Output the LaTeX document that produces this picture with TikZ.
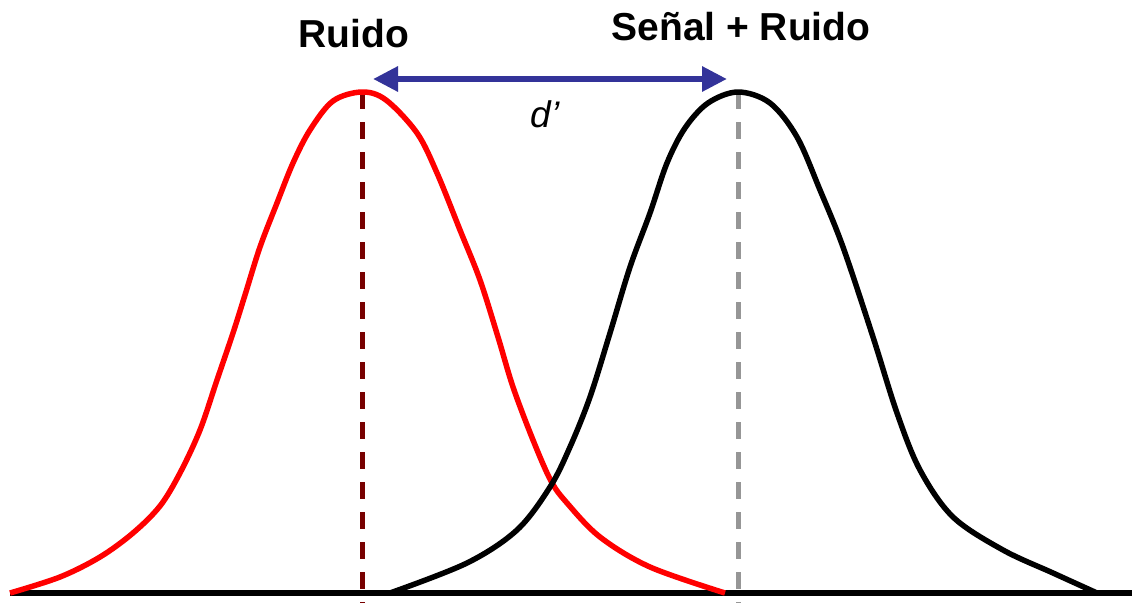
\documentclass[tikz,border=0pt]{standalone}
\usepackage{fontspec}
\setmainfont{Liberation Sans}
\usetikzlibrary{arrows.meta}
\definecolor{arrowblue}{RGB}{51,51,153}
\definecolor{darkred}{RGB}{120,0,0}
\definecolor{midgray}{RGB}{150,150,150}
\tikzset{
  curvestyle/.style={line width=5.5pt, line join=round},
  peakline/.style={line width=5pt, dash pattern=on 17pt off 13pt},
  titletext/.style={font=\fontsize{39}{42}\selectfont\bfseries, anchor=base, inner sep=0pt},
  dtext/.style={font=\fontsize{37}{40}\selectfont\itshape, anchor=base, inner sep=0pt},
}
\begin{document}
\begin{tikzpicture}[x=1pt,y=-1pt]
\useasboundingbox (0,0) rectangle (1132,603);
\fill[white] (0,0) rectangle (1132,603);
% baseline
\coordinate (bl) at (10,593);
\coordinate (br) at (1132,593);
\draw[line width=6pt] (bl) -- (br);
% dashed peak lines
\coordinate (npeak) at (362,92);
\coordinate (nfoot) at (362,603);
\coordinate (speak) at (738,92);
\coordinate (sfoot) at (738,603);
\draw[peakline, darkred] (npeak) -- (nfoot);
\draw[peakline, midgray] (speak) -- (sfoot);
% noise curve
\draw[curvestyle, red] plot[smooth, tension=0.55] coordinates {
 (10,593) (60,577) (100,557) (133,533) (160,506) (180,473) (200,430) (217,380)
 (233,333) (245,295) (260,247) (277,203) (293,163) (310,130) (333,101) (362,92)
 (386,100) (417,133) (437,173) (460,230) (480,280) (498,337) (513,387) (533,440)
 (551,481) (567,503) (600,537) (650,567) (725,593)};
% signal + noise curve
\draw[curvestyle, black] plot[smooth, tension=0.55] coordinates {
 (390,593) (467,563) (517,530) (550,487) (570,447) (590,397) (610,333) (630,267)
 (650,213) (667,163) (685,128) (708,103) (738,92) (770,103) (797,137) (820,190)
 (843,247) (873,337) (897,413) (920,470) (953,517) (1003,550) (1053,573) (1097,593)};
% d' arrow
\coordinate (al) at (373,79);
\coordinate (ar) at (727,79);
\draw[arrowblue, line width=6pt, {Triangle[length=25pt,width=24pt]}-{Triangle[length=25pt,width=24pt]}] (al) -- (ar);
% labels
\node[titletext] (ruido) at (354,47) {Ruido};
\node[titletext] (senal) at (741,40) {Señal + Ruido};
\node[dtext] (dprime) at (545,127) {d’};
\end{tikzpicture}
\end{document}
